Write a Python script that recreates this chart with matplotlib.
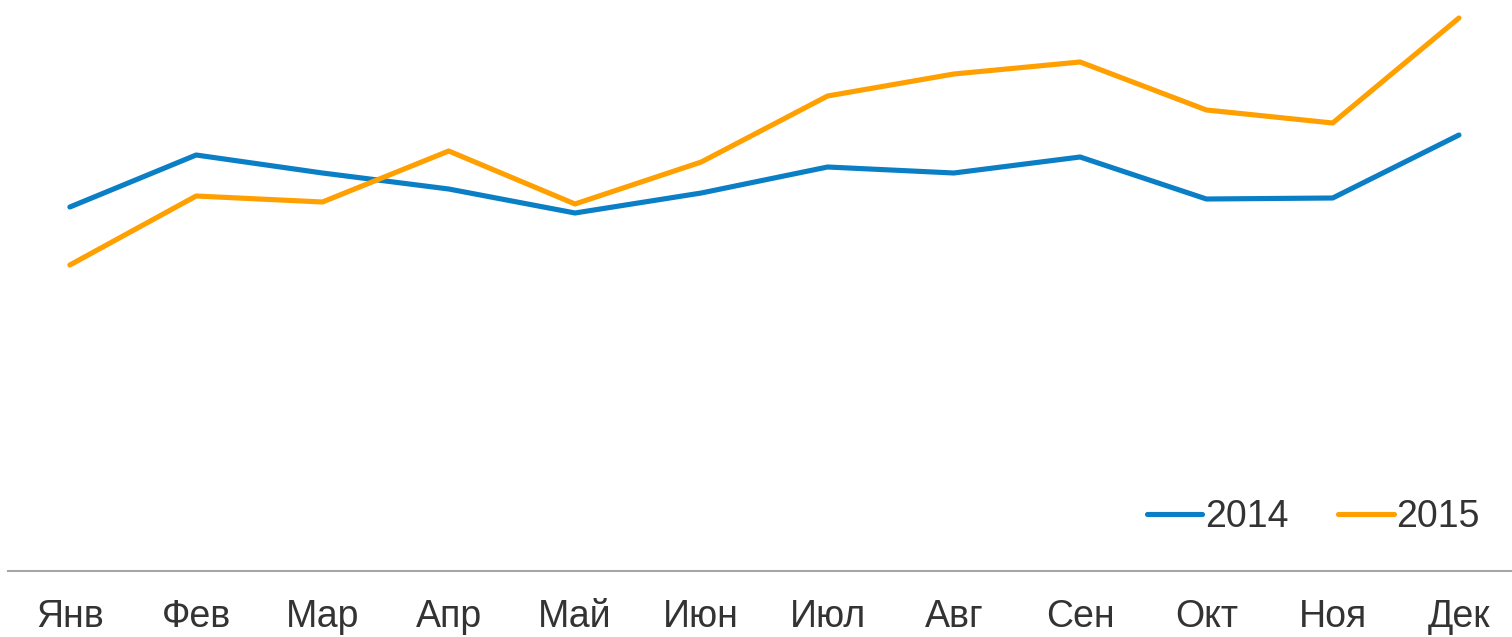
import matplotlib.pyplot as plt

plt.rcParams['font.family'] = ['Liberation Sans', 'DejaVu Sans']

months = ['Янв', 'Фев', 'Мар', 'Апр', 'Май', 'Июн', 'Июл', 'Авг', 'Сен', 'Окт', 'Ноя', 'Дек']
sales_2014 = [364, 416, 398, 382, 358, 378, 404, 398, 414, 372, 373, 436]
sales_2015 = [306, 375, 369, 420, 367, 409, 475, 497, 509, 461, 448, 553]

W, H = 1512, 637
fig = plt.figure(figsize=(W / 100, H / 100), dpi=100)
ax = fig.add_axes([8 / W, 1 - 571 / H, (W - 8) / W, 571 / H])

x = range(len(months))
ax.plot(x, sales_2014, color='#0A7FC6', lw=3.7, solid_capstyle='round', label='2014')
ax.plot(x, sales_2015, color='#FFA000', lw=3.7, solid_capstyle='round', label='2015')

ax.set_xlim(-0.49, 11.42)
ax.set_ylim(0, 571)
ax.set_xticks(list(x))
ax.set_xticklabels(months, fontsize=27, color='#333333')
ax.tick_params(axis='x', length=0, pad=20)
ax.set_yticks([])
for s in ['top', 'right', 'left']:
    ax.spines[s].set_visible(False)
ax.spines['bottom'].set_color('#A6A6A6')
ax.spines['bottom'].set_linewidth(1.5)

fig.legend(loc='center right', bbox_to_anchor=(1480 / W, 1 - 517 / H), ncol=2, frameon=False,
           fontsize=27, handlelength=1.47, handletextpad=0.08, columnspacing=1.33,
           borderpad=0, borderaxespad=0, labelcolor='#333333')

fig.savefig('out.png', dpi=100)
